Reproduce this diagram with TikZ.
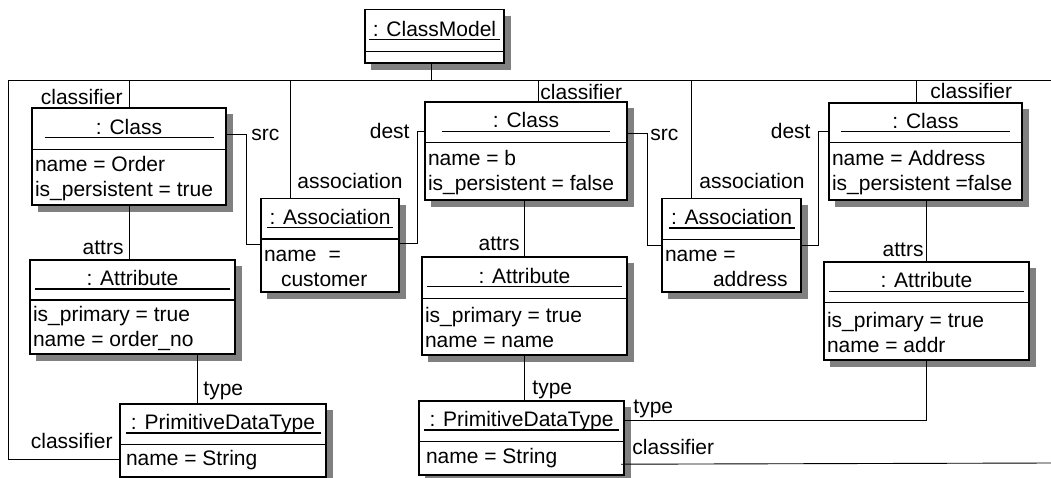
\documentclass[tikz,border=0pt]{standalone}
\usepackage{fontspec}
\setmainfont{Liberation Sans}
\usetikzlibrary{shapes.multipart}

% title part: box width, part height, underline width, text
\newcommand{\otitle}[4]{%
  \parbox[c][#2][c]{#1}{\centering
    \makebox[#3]{\rule{0pt}{15pt}#4}\kern-#3\raisebox{-4pt}{\rule{#3}{1.3pt}}}}
% slot part: box width, part height, lines
\newcommand{\obody}[3]{%
  \parbox[c][#2][c]{#1}{\raggedright\leftskip=3pt\strut#3}}

\begin{document}
\begin{tikzpicture}[
  x = 1pt,
  y = -1pt,
  line width = 0.9pt,
  font = \fontsize{21}{25}\selectfont
  ]

  \tikzstyle{obj}=[
  rectangle split,
  rectangle split parts = 2,
  draw = black,
  line width = 1.6pt,
  fill = white,
  inner sep = 0pt,
  outer sep = 0pt,
  anchor = north west
  ]
  \tikzstyle{lbl}=[inner sep = 0pt]
  \tikzstyle{boxshadow}=[draw = black!50, line width = 6pt, line cap = butt]

  \useasboundingbox (0,0) rectangle (1051,477);

  \node[obj] (cm) at (365,9.5) {\otitle{139pt}{40.5pt}{131pt}{: ClassModel}
    \nodepart{two}\parbox[c][9.5pt]{139pt}{}};

  \node[obj] (c1) at (32,108) {\otitle{194pt}{40pt}{169pt}{: Class}
    \nodepart{two}\obody{194pt}{53.5pt}{name = Order\\is\_persistent = true}};
  \node[obj] (c2) at (425,102) {\otitle{202pt}{39pt}{168pt}{: Class}
    \nodepart{two}\obody{202pt}{55.5pt}{name = b\\is\_persistent = false}};
  \node[obj] (c3) at (829,103) {\otitle{193pt}{38pt}{169pt}{: Class}
    \nodepart{two}\obody{193pt}{55.5pt}{name = Address\\is\_persistent =false}};

  \node[obj] (a1) at (261,198.5) {\otitle{138pt}{39pt}{126pt}{: Association}
    \nodepart{two}\obody{138pt}{51pt}{name\hspace{12pt}=\\\hspace*{17pt}customer}};
  \node[obj] (a2) at (662,198.5) {\otitle{139pt}{39.5pt}{126pt}{: Association}
    \nodepart{two}\obody{139pt}{50.5pt}{name =\\\hspace*{48pt}address}};

  \node[obj] (at1) at (30,260) {\otitle{205pt}{38.5pt}{195pt}{: Attribute}
    \nodepart{two}\obody{205pt}{52.5pt}{is\_primary = true\\name = order\_no}};
  \node[obj] (at2) at (422,257) {\otitle{205pt}{40pt}{195pt}{: Attribute}
    \nodepart{two}\obody{205pt}{54.5pt}{is\_primary = true\\name = name}};
  \node[obj] (at3) at (824,262) {\otitle{205pt}{39pt}{195pt}{: Attribute}
    \nodepart{two}\obody{205pt}{55.5pt}{is\_primary = true\\name = addr}};

  \node[obj] (p1) at (120,404) {\otitle{206pt}{39pt}{195pt}{: PrimitiveDataType}
    \nodepart{two}\obody{206pt}{31pt}{\hspace*{3pt}name = String}};
  \node[obj] (p2) at (419,401) {\otitle{205pt}{39pt}{195pt}{: PrimitiveDataType}
    \nodepart{two}\obody{205pt}{32pt}{\hspace*{4pt}name = String}};

  % shadows, right and bottom
  \foreach \n in {cm, c1, c2, c3, a1, a2, at1, at2, at3, p1, p2}
    \draw[boxshadow] ([xshift=3.8pt, yshift=-6pt]\n.north east)
      -- ([xshift=3.8pt, yshift=-3.8pt]\n.south east)
      -- ([xshift=6pt, yshift=-3.8pt]\n.south west);

  \coordinate (busL) at (8.5,80);
  \coordinate (busR) at (1051,80);
  \coordinate (rimR) at (1051,463);
  \coordinate (t1) at ([xshift=-26pt]p1.north);

  % model bus
  \draw ([xshift=-3pt]cm.south) |- (busR);
  \draw ([xshift=-3pt]cm.south) |- (busL) |- ([yshift=18pt]p1.south west);
  \draw (c1.north) |- (busL);
  \draw ([xshift=-40pt]a1.north) |- (busL);
  \draw ([xshift=12pt]c2.north) |- (busL);
  \draw ([xshift=-40.5pt]a2.north) |- (busL);
  \draw ([xshift=-9.5pt]c3.north) |- (busL);

  % src / dest
  \draw ([yshift=-26pt]c1.north east) -- ++(20.5,0) |- ([yshift=-45.5pt]a1.north west);
  \draw ([yshift=-44.5pt]a1.north east) -- ++(18,0) |- ([yshift=-29.5pt]c2.north west);
  \draw ([yshift=-31pt]c2.north east) -- ++(20,0) |- ([yshift=-46.5pt]a2.north west);
  \draw ([yshift=-46.5pt]a2.north east) -- ++(17.5,0) |- ([yshift=-28pt]c3.north west);

  % attrs / type
  \draw (c1.south) -- (c1.south |- at1.north);
  \draw (at2.north) -- (at2.north |- c2.south);
  \draw (at3.north) -- (at3.north |- c3.south);
  \draw (t1) -- (t1 |- at1.south);
  \draw (at2.south) -- (at2.south |- p2.north);
  \draw (at3.south) |- ([yshift=-19pt]p2.north east);
  \draw ([xshift=-3pt, yshift=11pt]p2.south east) -- (rimR);

  \node[lbl, anchor=base east] (lc1) at ([xshift=-6pt, yshift=4pt]c1.north) {classifier};
  \node[lbl, anchor=base west] (lc2) at ([xshift=14pt, yshift=3pt]c2.north) {classifier};
  \node[lbl, anchor=base west] (lc3) at ([xshift=4.5pt, yshift=5pt]c3.north) {classifier};
  \node[lbl, anchor=base west] (la1) at ([xshift=-33pt, yshift=10.5pt]a1.north) {association};
  \node[lbl, anchor=base west] (la2) at ([xshift=-32.5pt, yshift=10.5pt]a2.north) {association};
  \node[lbl, anchor=base west] (ls1) at ([xshift=25pt, yshift=-32pt]c1.north east) {src};
  \node[lbl, anchor=base west] (ls2) at ([xshift=23pt, yshift=-38pt]c2.north east) {src};
  \node[lbl, anchor=base east] (ld2) at ([xshift=-15pt, yshift=-36pt]c2.north west) {dest};
  \node[lbl, anchor=base east] (ld3) at ([xshift=-18pt, yshift=-35pt]c3.north west) {dest};
  \node[lbl, anchor=base east] (lat1) at ([xshift=-8.5pt, yshift=6pt]at1.north) {attrs};
  \node[lbl, anchor=base east] (lat2) at ([xshift=-4.5pt, yshift=7pt]at2.north) {attrs};
  \node[lbl, anchor=base east] (lat3) at ([xshift=-2.5pt, yshift=5.5pt]at3.north) {attrs};
  \node[lbl, anchor=base west] (lt1) at ([xshift=6pt, yshift=9pt]t1) {type};
  \node[lbl, anchor=base west] (lt2) at ([xshift=10.5pt, yshift=7pt]p2.north) {type};
  \node[lbl, anchor=base west] (lt3) at ([xshift=9pt, yshift=-12pt]p2.north east) {type};
  \node[lbl, anchor=base west] (lcp2) at ([xshift=8pt, yshift=21pt]p2.south east) {classifier};
  \node[lbl, anchor=base east] (lcp1) at ([xshift=-7pt, yshift=29pt]p1.south west) {classifier};

\end{tikzpicture}
\end{document}
